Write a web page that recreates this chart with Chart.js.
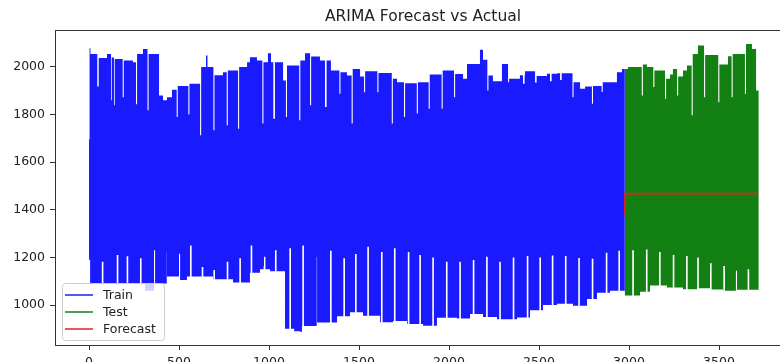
<!DOCTYPE html>
<html>
<head>
<meta charset="utf-8">
<script src="https://cdn.jsdelivr.net/npm/chart.js@4.4.1/dist/chart.umd.min.js"></script>
<style>
  html, body { margin: 0; padding: 0; background: #fff; overflow: hidden; }
  #wrap { width: 780px; height: 362px; overflow: hidden; }
</style>
</head>
<body>
<div id="wrap"><canvas id="c" width="846" height="362"></canvas></div>
<script>
// hourly-ish series, 3720 samples: first 80% train, rest test.
// Drawn as its envelope: step levels of the daily highs/lows plus the narrow
// weekly dips (top) and spikes (bottom).
const trainEnd = 2976;
const testEnd = 3720;

const trainUpX = [0,3,8,54,100,126,143,193,244,267,300,331,389,411,433,461,493,558,623,650,658,697,744,771,834,878,894,933,969,994,1011,1078,1100,1174,1200,1234,1283,1344,1397,1433,1465,1506,1534,1608,1688,1711,1756,1827,1893,1965,2034,2078,2100,2172,2189,2219,2244,2294,2334,2394,2422,2478,2544,2600,2692,2728,2756,2800,2854,2933,2961];
const trainUpY = [1696,2079,2055,2038,2055,2040,2034,2027,2020,2055,2076,2055,1880,1860,1873,1904,1920,1930,2000,2048,2000,1965,1978,1985,2000,2020,2041,2027,2020,2058,2020,1943,2006,2027,2058,2044,2027,1985,1978,1964,1992,1960,1982,1975,1950,1936,1932,1936,1968,1985,1971,1950,2013,2072,2030,1964,1940,2013,1950,1965,1982,1962,1972,1974,1936,1909,1918,1920,1936,1978,1992];
const trainDipX = [46,122,139,187,261,325,487,552,617,691,765,828,963,1024,1094,1168,1228,1311,1391,1459,1528,1602,1682,1750,1821,1887,1959,2028,2213,2328,2411,2478,2561,2617,2686,2794,2848];
const trainDipY = [1918,1860,1839,1873,1843,1818,1790,1800,1713,1734,1755,1740,1762,1783,1790,1776,1839,1832,1888,1762,1894,1894,1762,1790,1805,1825,1825,1873,1901,1936,1930,1935,1940,1945,1873,1846,1895];
const trainLowX = [0,6,311,367,433,506,544,689,800,894,950,970,980,1006,1089,1140,1172,1183,1267,1378,1450,1522,1617,1689,1767,1856,1933,2044,2117,2189,2267,2378,2450,2522,2600,2689,2767,2822,2894];
const trainLowY = [1190,1090,1060,1090,1120,1105,1120,1108,1095,1135,1150,1163,1150,1142,900,890,888,912,927,953,970,955,928,933,920,913,947,943,962,950,940,948,978,1000,1005,997,1025,1052,1060];
const trainSpikeX = [71,154,209,283,361,432,500,561,626,691,765,835,898,972,1033,1113,1185,1265,1339,1413,1478,1546,1622,1694,1771,1835,1907,1983,2057,2132,2206,2279,2354,2432,2502,2571,2644,2718,2793,2871,2941];
const trainSpikeY = [1182,1210,1205,1196,1230,1223,1215,1250,1160,1147,1182,1196,1250,1203,1230,1238,1250,1203,1228,1196,1214,1245,1223,1238,1223,1210,1200,1182,1182,1189,1203,1182,1200,1206,1200,1208,1206,1197,1194,1220,1228];

const testUpX = [2976,2994,3077,3100,3141,3206,3228,3244,3273,3300,3322,3354,3383,3423,3502,3550,3576,3650,3683,3706];
const testUpY = [1992,2000,2010,2000,1985,1950,1968,1992,1960,1985,2006,2055,2090,2050,2010,2045,2055,2097,2076,1901];
const testDipX = [3071,3135,3200,3267,3348,3417,3496,3570,3644];
const testDipY = [1880,1916,1866,1880,1797,1873,1852,1873,1887];
const testLowX = [2976,3061,3117,3211,3300,3378,3450,3522,3600];
const testLowY = [1040,1056,1082,1074,1066,1070,1065,1060,1064];
const testSpikeX = [3018,3094,3167,3243,3317,3379,3450,3524,3594,3659];
const testSpikeY = [1230,1233,1223,1210,1206,1200,1175,1164,1144,1150];

const forecastX = [2976, 2977, 3719];
const forecastY = [1380, 1468, 1468];

const xTicks = [0, 500, 1000, 1500, 2000, 2500, 3000, 3500];
const yTicks = [1000, 1200, 1400, 1600, 1800, 2000];

const NOTCH = 9; // width of a dip / spike in samples

function levelAt(xs, ys, x) {
  let v = ys[0];
  for (let i = 0; i < xs.length; i++) if (xs[i] <= x) v = ys[i];
  return v;
}
function envelope(xs, ys, nx, ny, end) {
  const pts = xs.map((x, i) => ({ x, y: ys[i] }));
  nx.forEach((x, i) => {
    pts.push({ x, y: ny[i] });
    pts.push({ x: x + NOTCH, y: levelAt(xs, ys, x + NOTCH) });
  });
  pts.sort((a, b) => a.x - b.x);
  // last sample holds for one step so train and test butt together
  pts.push({ x: end + 1, y: pts[pts.length - 1].y });
  return pts;
}

const BLUE = "#1a1aff", GREEN = "#128012", RED = "#ee1c1c";
const FONT = "'DejaVu Sans', sans-serif";

// upper edge is filled down to the lower edge (next dataset)
const edge = (label, data, color, fill) => ({
  label, data, fill,
  key: color,
  order: 1,
  stepped: true,
  borderColor: "rgba(0,0,0,0)",
  borderWidth: 1,
  backgroundColor: color,
  pointRadius: 0,
});

const frame = {
  id: "frame",
  afterDatasetsDraw(chart) {
    const { ctx, chartArea: a } = chart;
    ctx.save();
    ctx.strokeStyle = "#333";
    ctx.lineWidth = 1;
    ctx.strokeRect(Math.round(a.left) + 0.5, Math.round(a.top) + 0.5, Math.round(a.width), Math.round(a.height));
    ctx.restore();
  },
};

const legendBox = {
  id: "legendBox",
  afterDraw(chart) {
    const { ctx, chartArea: a } = chart;
    const items = chart.data.datasets.filter((d) => d.label);
    const w = 102, h = 57, x = a.left + 7, y = a.bottom - 5 - h;
    ctx.save();
    ctx.beginPath();
    ctx.roundRect(x + 0.5, y + 0.5, w, h, 3);
    ctx.fillStyle = "rgba(255,255,255,0.8)";
    ctx.fill();
    ctx.strokeStyle = "#cccccc";
    ctx.lineWidth = 1;
    ctx.stroke();
    ctx.font = "12.5px " + FONT;
    ctx.textBaseline = "middle";
    items.forEach((d, i) => {
      const cy = y + 12 + i * 17;
      ctx.beginPath();
      ctx.moveTo(x + 3, cy);
      ctx.lineTo(x + 31, cy);
      ctx.strokeStyle = d.key;
      ctx.lineWidth = 1.5;
      ctx.stroke();
      ctx.fillStyle = "#222";
      ctx.fillText(d.label, x + 41, cy + 1);
    });
    ctx.restore();
  },
};

Chart.defaults.font.family = FONT;
Chart.defaults.color = "#222";
Chart.defaults.animation = false;

new Chart(document.getElementById("c"), {
  type: "line",
  data: {
    datasets: [
      edge("Train", envelope(trainUpX, trainUpY, trainDipX, trainDipY, trainEnd), BLUE, "+1"),
      edge("", envelope(trainLowX, trainLowY, trainSpikeX, trainSpikeY, trainEnd), BLUE, false),
      edge("Test", envelope(testUpX, testUpY, testDipX, testDipY, testEnd), GREEN, "+1"),
      edge("", envelope(testLowX, testLowY, testSpikeX, testSpikeY, testEnd), GREEN, false),
      {
        label: "Forecast",
        key: RED,
        order: 0,
        data: forecastX.map((x, i) => ({ x, y: forecastY[i] })),
        borderColor: RED,
        borderWidth: 1.6,
        pointRadius: 0,
        fill: false,
      },
    ],
  },
  options: {
    responsive: false,
    plugins: {
      legend: { display: false },
      tooltip: { enabled: false },
      title: {
        display: true,
        text: "ARIMA Forecast vs Actual",
        font: { size: 15.5, weight: "normal" },
        color: "#222",
        padding: { top: 8, bottom: 3 },
      },
    },
    scales: {
      x: {
        type: "linear",
        min: -189,
        max: 3900,
        afterBuildTicks: (s) => { s.ticks = xTicks.map((v) => ({ value: v })); },
        afterFit: (s) => { s.height = 17; },
        grid: { drawOnChartArea: false, drawTicks: true, tickLength: 5, tickColor: "#333" },
        border: { display: false },
        ticks: { font: { size: 12.5 }, padding: 5, maxRotation: 0, color: "#222", callback: (v) => String(v) },
      },
      y: {
        min: 832,
        max: 2157,
        afterBuildTicks: (s) => { s.ticks = yTicks.map((v) => ({ value: v })); },
        afterFit: (s) => { s.width = 55; },
        grid: { drawOnChartArea: false, drawTicks: true, tickLength: 5, tickColor: "#333" },
        border: { display: false },
        ticks: { font: { size: 12.5 }, padding: 5, color: "#222", callback: (v) => String(v) },
      },
      // empty right-hand strip: the plot frame sits at 791px, past the photo edge
      pad: {
        type: "linear",
        position: "right",
        display: true,
        grid: { display: false },
        border: { display: false },
        ticks: { display: false },
        afterFit: (s) => { s.width = 55; },
      },
    },
  },
  plugins: [frame, legendBox],
});
</script>
</body>
</html>
